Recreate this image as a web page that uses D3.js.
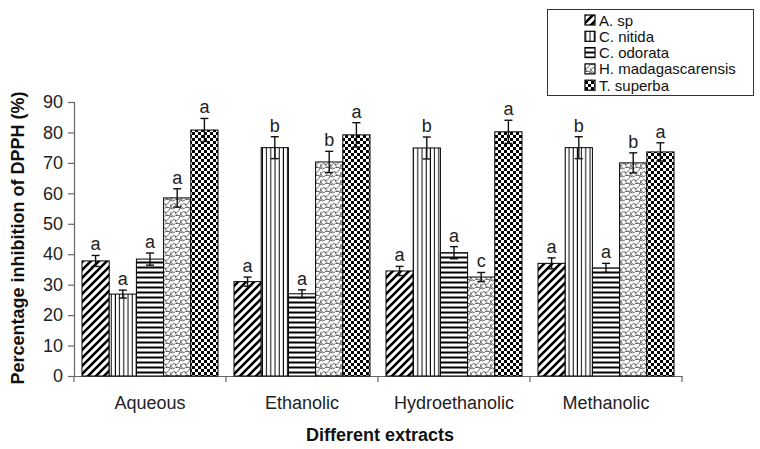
<!DOCTYPE html>
<html><head><meta charset="utf-8">
<script src="https://cdn.jsdelivr.net/npm/d3@7"></script>
<style>
body{margin:0;background:#fff}
svg{display:block}
text{font-family:"Liberation Sans",Arial,sans-serif}
</style></head>
<body><svg id="c" width="760" height="449"></svg>
<script>
const categories=["Aqueous","Ethanolic","Hydroethanolic","Methanolic"];
const series=["A. sp","C. nitida","C. odorata","H. madagascarensis","T. superba"];
const values=[
  [37.8,26.9,38.4,58.5,80.8],
  [31.0,75.0,27.0,70.3,79.2],
  [34.5,74.9,40.5,32.5,80.2],
  [37.0,75.0,35.5,70.0,73.6]
];
const errors=[
  [1.8,1.3,2.0,3.0,3.8],
  [1.5,3.6,1.3,3.5,4.0],
  [1.5,3.6,2.0,1.5,3.8],
  [1.8,3.6,1.5,3.3,3.0]
];
const letters=[
  ["a","a","a","a","a"],
  ["a","b","a","b","a"],
  ["a","b","a","c","a"],
  ["a","b","a","b","a"]
];
const yTicks=[0,10,20,30,40,50,60,70,80,90];
const yTitle="Percentage inhibition of DPPH (%)";
const xTitle="Different extracts";

const svg=d3.select("#c");
const defs=svg.append("defs");
const patIds=["p0","p1","p2","p3","p4"];
// A. sp diagonal
let p=defs.append("pattern").attr("id","p0").attr("patternUnits","userSpaceOnUse").attr("width",8).attr("height",8);
p.append("rect").attr("width",8).attr("height",8).attr("fill","#fff");
p.append("path").attr("d","M-2,10 L10,-2 M-2,2 L2,-2 M6,10 L10,6").attr("stroke","#000").attr("stroke-width",2.6);
// C. nitida vertical
p=defs.append("pattern").attr("id","p1").attr("patternUnits","userSpaceOnUse").attr("width",4.2).attr("height",4);
p.append("rect").attr("width",4.2).attr("height",4).attr("fill","#fff");
p.append("path").attr("d","M2,0 L2,4").attr("stroke","#000").attr("stroke-width",1);
// C. odorata horizontal
p=defs.append("pattern").attr("id","p2").attr("patternUnits","userSpaceOnUse").attr("width",4).attr("height",5);
p.append("rect").attr("width",4).attr("height",5).attr("fill","#fff");
p.append("path").attr("d","M0,2.5 L4,2.5").attr("stroke","#000").attr("stroke-width",2);
// H. madagascarensis scales
p=defs.append("pattern").attr("id","p3").attr("patternUnits","userSpaceOnUse").attr("width",10).attr("height",8);
p.append("rect").attr("width",10).attr("height",8).attr("fill","#fff");
p.append("path").attr("d","M0,8 Q2.5,2 5,4 Q7.5,6 10,0 M0,4 Q2.5,10 5,8 M5,8 Q7.5,6 10,8 M-5,4 Q-2.5,6 0,0 M0,0 Q2.5,2 5,0 M5,4 Q7.5,10 10,8")
  .attr("stroke","#444").attr("stroke-width",0.8).attr("fill","none");
// T. superba checker
p=defs.append("pattern").attr("id","p4").attr("patternUnits","userSpaceOnUse").attr("width",6).attr("height",6);
p.append("rect").attr("width",6).attr("height",6).attr("fill","#fff");
p.append("rect").attr("width",3).attr("height",3).attr("fill","#000");
p.append("rect").attr("x",3).attr("y",3).attr("width",3).attr("height",3).attr("fill","#000");

const x0=d3.scaleBand().domain(categories).range([74,682]).paddingInner(0).paddingOuter(0);
const x1=d3.scaleBand().domain(series).range([8,x0.bandwidth()-8]).padding(0);
const y=d3.scaleLinear().domain([0,90]).range([376,102]);

// y axis
const yAxis=svg.append("g").attr("transform","translate(74,0)")
  .call(d3.axisLeft(y).tickValues(yTicks).tickSize(6).tickPadding(5).tickFormat(d3.format("d")));
yAxis.select(".domain").attr("stroke","#666").attr("stroke-width",1.2);
yAxis.selectAll(".tick line").attr("stroke","#666").attr("stroke-width",1.2);
yAxis.selectAll(".tick text").attr("font-size",18).attr("fill","#222").attr("font-family","Liberation Sans, Arial, sans-serif");

// x axis
const xAxis=svg.append("g").attr("transform","translate(0,376)")
  .call(d3.axisBottom(x0).tickSize(0).tickPadding(20));
xAxis.select(".domain").attr("stroke","#666").attr("stroke-width",1.2);
xAxis.selectAll(".tick text").attr("font-size",18).attr("fill","#222").attr("font-family","Liberation Sans, Arial, sans-serif");
// boundary ticks
const bounds=categories.map(c=>x0(c)).concat([x0(categories[categories.length-1])+x0.bandwidth()]);
svg.append("g").selectAll("line").data(bounds).join("line")
  .attr("x1",d=>d).attr("x2",d=>d).attr("y1",376).attr("y2",382)
  .attr("stroke","#666").attr("stroke-width",1.2);

// bars
const rows=[];
categories.forEach((c,i)=>series.forEach((s,j)=>rows.push({c,s,j,v:values[i][j],e:errors[i][j],l:letters[i][j]})));
const g=svg.append("g");
g.selectAll("rect").data(rows).join("rect")
  .attr("x",d=>x0(d.c)+x1(d.s)).attr("width",x1.bandwidth())
  .attr("y",d=>y(d.v)).attr("height",d=>y(0)-y(d.v))
  .attr("fill",d=>`url(#${patIds[d.j]})`).attr("stroke","#000").attr("stroke-width",1);

// error bars
const eb=svg.append("g").attr("stroke","#111").attr("stroke-width",1.4);
rows.forEach(d=>{
  const cx=x0(d.c)+x1(d.s)+x1.bandwidth()/2;
  eb.append("line").attr("x1",cx).attr("x2",cx).attr("y1",y(d.v+d.e)).attr("y2",y(d.v-d.e));
  eb.append("line").attr("x1",cx-4).attr("x2",cx+4).attr("y1",y(d.v+d.e)).attr("y2",y(d.v+d.e));
  eb.append("line").attr("x1",cx-4).attr("x2",cx+4).attr("y1",y(d.v-d.e)).attr("y2",y(d.v-d.e));
});
svg.append("g").selectAll("text").data(rows).join("text")
  .attr("x",d=>x0(d.c)+x1(d.s)+x1.bandwidth()/2)
  .attr("y",d=>y(d.v+d.e)-5)
  .attr("text-anchor","middle").attr("font-size",18).attr("fill","#222")
  .text(d=>d.l);

// titles
svg.append("text").attr("transform","translate(24,238) rotate(-90)")
  .attr("text-anchor","middle").attr("font-size",18).attr("font-weight","bold").attr("fill","#111").text(yTitle);
svg.append("text").attr("x",380).attr("y",441)
  .attr("text-anchor","middle").attr("font-size",18).attr("font-weight","bold").attr("fill","#111").text(xTitle);

// legend
const lg=svg.append("g");
lg.append("rect").attr("x",547.5).attr("y",9.5).attr("width",206).attr("height",86)
  .attr("fill","#fff").attr("stroke","#333").attr("stroke-width",1);
series.forEach((s,j)=>{
  const yy=20+j*16.3;
  lg.append("rect").attr("x",585).attr("y",yy-5).attr("width",10).attr("height",10)
    .attr("fill",`url(#${patIds[j]})`).attr("stroke","#000").attr("stroke-width",1.2);
  lg.append("text").attr("x",599).attr("y",yy+5.5).attr("font-size",15).attr("fill","#111").text(s);
});
</script></body></html>
